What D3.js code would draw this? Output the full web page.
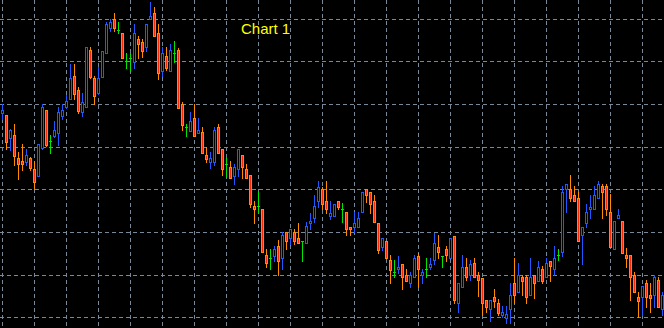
<!DOCTYPE html>
<html>
<head>
<meta charset="utf-8">
<script src="https://cdn.jsdelivr.net/npm/d3@7"></script>
<style>
  html, body { margin: 0; padding: 0; background: #000; overflow: hidden; }
  svg { display: block; }
</style>
</head>
<body>
<svg id="chart"></svg>
<script>
// bar values (price points), one entry per bar, left to right
const open = [2287,2285,2262,2265,2242,2239,2238,2242,2231,2224,2252,2290,2259,2264,2267,2284,2293,2301,2324,2310,
  2288,2293,2350,2322,2307,2323,2347,2372,2381,2370,2367,2339,2342,2338,2361,2358,2353,2381,2387,2367,
  2329,2344,2329,2347,2350,2296,2273,2269,2282,2267,2268,2245,2238,2238,2273,2251,2236,2233,2224,2231,
  2245,2231,2225,2194,2194,2191,2145,2142,2144,2154,2142,2168,2162,2168,2162,2159,2157,2177,2182,2199,
  2211,2199,2184,2184,2199,2191,2188,2173,2173,2173,2188,2211,2208,2199,2177,2153,2159,2140,2128,2131,
  2136,2125,2117,2123,2144,2125,2131,2133,2140,2153,2144,2151,2142,2164,2097,2113,2133,2125,2137,2125,
  2122,2100,2091,2103,2097,2085,2082,2091,2117,2108,2123,2123,2105,2125,2119,2131,2123,2139,2131,2145,
  2148,2211,2211,2205,2202,2165,2177,2191,2191,2202,2214,2214,2188,2151,2182,2179,2145,2145,2125,2103,
  2103,2117,2105,2105,2120,2091];
const high = [2296,2285,2271,2276,2248,2256,2251,2243,2239,2256,2296,2290,2265,2279,2293,2296,2305,2336,2336,2313,
  2307,2353,2353,2324,2333,2349,2378,2381,2387,2378,2367,2347,2347,2376,2364,2361,2376,2398,2393,2376,
  2353,2353,2356,2359,2352,2298,2276,2288,2296,2282,2273,2253,2248,2273,2276,2251,2243,2239,2236,2251,
  2245,2236,2225,2199,2208,2191,2151,2151,2154,2160,2168,2168,2171,2171,2177,2159,2178,2187,2205,2219,
  2213,2219,2199,2196,2199,2197,2188,2173,2188,2188,2208,2211,2208,2205,2177,2162,2159,2145,2140,2144,
  2136,2131,2128,2145,2147,2131,2142,2142,2167,2165,2144,2154,2162,2164,2117,2145,2142,2140,2142,2128,
  2122,2100,2100,2111,2101,2094,2094,2117,2142,2137,2125,2125,2142,2125,2139,2134,2142,2139,2154,2151,
  2214,2216,2225,2214,2208,2173,2196,2205,2214,2219,2216,2216,2206,2179,2191,2179,2152,2145,2128,2108,
  2114,2120,2117,2125,2123,2108];
const low = [2281,2251,2250,2235,2221,2230,2235,2230,2211,2224,2251,2254,2247,2263,2255,2281,2292,2301,2301,2287,
  2284,2293,2322,2296,2306,2323,2347,2369,2369,2367,2342,2332,2329,2332,2342,2343,2349,2381,2364,2321,
  2324,2330,2329,2338,2292,2270,2264,2269,2264,2267,2247,2238,2232,2235,2247,2225,2223,2222,2216,2224,
  2222,2222,2193,2177,2187,2148,2133,2131,2139,2125,2131,2151,2156,2156,2157,2139,2157,2171,2178,2193,
  2191,2187,2181,2184,2191,2178,2165,2165,2168,2173,2188,2198,2187,2178,2147,2150,2142,2117,2123,2127,
  2111,2119,2113,2123,2113,2117,2123,2131,2136,2142,2133,2139,2142,2097,2088,2113,2120,2120,2123,2104,
  2085,2088,2079,2093,2085,2083,2077,2077,2097,2108,2105,2097,2105,2102,2119,2117,2123,2119,2125,2140,
  2144,2188,2199,2199,2159,2136,2173,2182,2191,2202,2182,2185,2153,2151,2182,2147,2133,2100,2108,2083,
  2085,2093,2088,2093,2093,2085];
const close = [2290,2258,2270,2244,2236,2236,2245,2232,2218,2256,2293,2255,2259,2270,2288,2290,2299,2322,2306,2289,
  2298,2353,2323,2304,2322,2349,2376,2378,2372,2370,2342,2339,2342,2367,2356,2349,2376,2384,2364,2327,
  2347,2332,2350,2347,2292,2275,2273,2279,2264,2270,2247,2241,2242,2270,2247,2231,2236,2222,2233,2251,
  2233,2222,2196,2191,2194,2148,2137,2142,2151,2139,2165,2159,2171,2159,2157,2159,2174,2179,2194,2213,
  2196,2191,2187,2196,2193,2191,2171,2171,2177,2182,2208,2205,2196,2178,2150,2162,2142,2130,2128,2133,
  2123,2119,2125,2142,2131,2128,2131,2136,2157,2148,2144,2145,2162,2100,2117,2133,2123,2136,2123,2120,
  2097,2093,2100,2099,2087,2088,2086,2105,2105,2125,2119,2103,2123,2117,2133,2119,2137,2134,2142,2145,
  2208,2216,2202,2199,2159,2173,2188,2193,2205,2216,2208,2191,2153,2179,2185,2147,2142,2123,2108,2099,
  2114,2103,2102,2123,2093,2105];

// horizontal grid price levels
const gridLevels = [2381, 2339, 2296, 2253, 2211, 2168, 2125, 2083];
const gridEvery = 8; // vertical grid line every 8 bars
const title = 'Chart 1';

const width = 664;
const height = 328;

const colors = {
  bg: '#000000',
  grid: '#778899',
  barUp: '#1e5aff',
  barDown: '#ff8c00',
  bearFill: '#ff2800',
  bullFill: '#000000',
  doji: '#00e600',
  text: '#ffff00'
};

const bars = open.map((o, i) => ({ i, o, h: high[i], l: low[i], c: close[i] }));

const x = d3.scaleBand()
  .domain(d3.range(bars.length))
  .range([0, width]);

const y = d3.scaleLinear()
  .domain([2072, 2400])
  .range([height, 0]);

const svg = d3.select('#chart')
  .attr('width', width)
  .attr('height', height)
  .style('background', colors.bg)
  .attr('shape-rendering', 'crispEdges');

// grid
const grid = svg.append('g').attr('class', 'grid')
  .attr('stroke', colors.grid)
  .attr('stroke-width', 1)
  .attr('stroke-dasharray', '4,3');

grid.selectAll('line.h')
  .data(gridLevels)
  .join('line')
  .attr('class', 'h')
  .attr('x1', 0)
  .attr('x2', width)
  .attr('y1', d => Math.round(y(d)) + 0.5)
  .attr('y2', d => Math.round(y(d)) + 0.5);

grid.selectAll('line.v')
  .data(bars.filter(d => d.i % gridEvery === 0))
  .join('line')
  .attr('class', 'v')
  .attr('x1', d => x(d.i) + 2.5)
  .attr('x2', d => x(d.i) + 2.5)
  .attr('y1', 0)
  .attr('y2', height);

// title
svg.append('text')
  .attr('x', 241)
  .attr('y', 34)
  .attr('fill', colors.text)
  .style('font-family', 'Liberation Sans, Arial, sans-serif')
  .style('font-size', '15px')
  .text(title);

// candles
const kind = d => d.c > d.o ? 'up' : d.c < d.o ? 'down' : 'doji';
const lineColor = d => ({ up: colors.barUp, down: colors.barDown, doji: colors.doji })[kind(d)];

const candles = svg.append('g').attr('class', 'candles')
  .selectAll('g')
  .data(bars)
  .join('g');

candles.append('line')
  .attr('x1', d => x(d.i) + 2.5)
  .attr('x2', d => x(d.i) + 2.5)
  .attr('y1', d => Math.round(y(d.h)))
  .attr('y2', d => Math.round(y(d.l)) + 1)
  .attr('stroke', lineColor);

candles.filter(d => kind(d) !== 'doji')
  .append('rect')
  .attr('x', d => x(d.i) + 1.5)
  .attr('y', d => Math.round(y(Math.max(d.o, d.c))) + 0.5)
  .attr('width', 2)
  .attr('height', d => Math.round(y(Math.min(d.o, d.c))) - Math.round(y(Math.max(d.o, d.c))))
  .attr('fill', d => kind(d) === 'up' ? colors.bullFill : colors.bearFill)
  .attr('stroke', lineColor);

candles.filter(d => kind(d) === 'doji')
  .append('line')
  .attr('x1', d => x(d.i) + 1)
  .attr('x2', d => x(d.i) + 4)
  .attr('y1', d => Math.round(y(d.o)) + 0.5)
  .attr('y2', d => Math.round(y(d.o)) + 0.5)
  .attr('stroke', colors.doji);
</script>
</body>
</html>
